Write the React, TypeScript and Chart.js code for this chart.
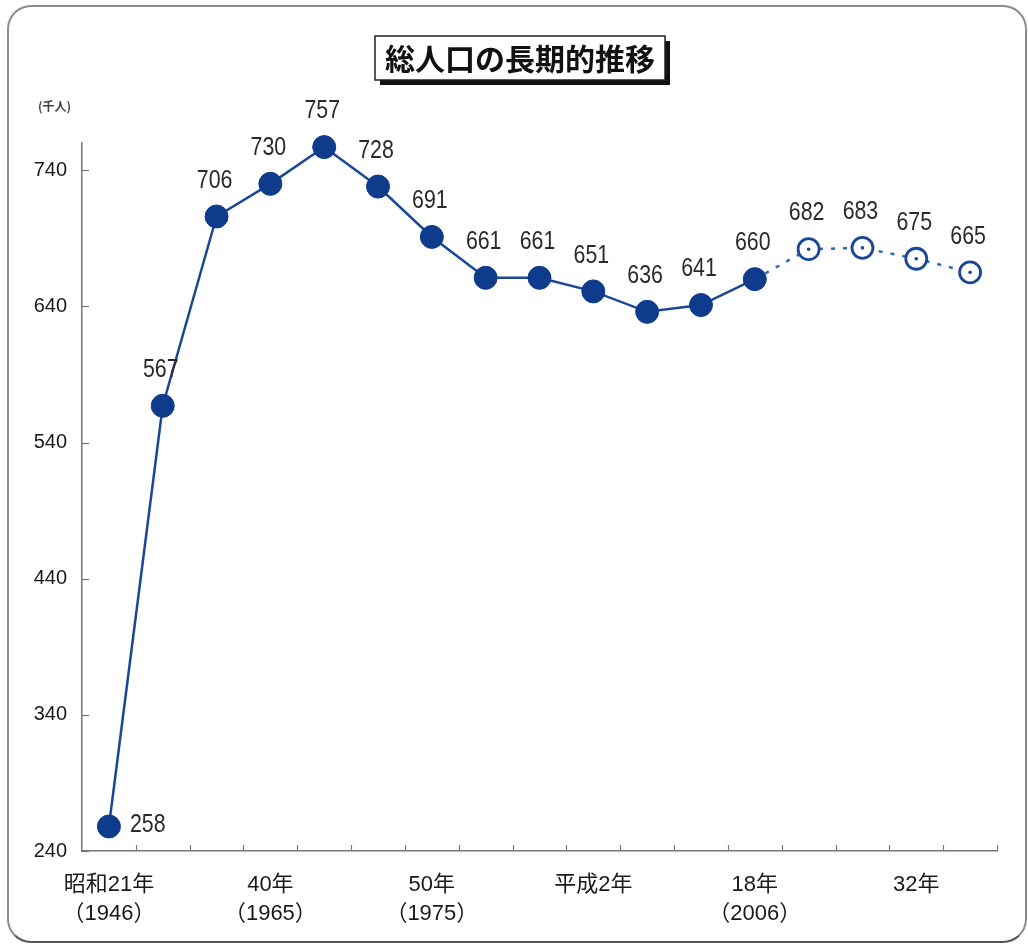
import React, { useEffect, useRef } from "react";
import { Chart, registerables } from "chart.js";

Chart.register(...registerables);

// Population (thousand people): recorded values and projections
const tickLabels: (string | string[])[] = [
  ["昭和21年", "（1946）"], "", "", ["40年", "（1965）"], "", "", ["50年", "（1975）"], "", "",
  "平成2年", "", "", ["18年", "（2006）"], "", "", "32年", "",
];
const actual = [258, 567, 706, 730, 757, 728, 691, 661, 661, 651, 636, 641, 660];
const projected = [682, 683, 675, 665];
const yTicks = [240, 340, 440, 540, 640, 740];

const TITLE = "総人口の長期的推移";
const UNIT = "(千人)";

const NAVY = "#0e3b8c";
const LINE = "#1a4897";
const DASH = "#2e68bd";
const NUM_FONT = '"Liberation Sans", sans-serif';
const JP_FONT = '"Liberation Sans", "Noto Sans CJK JP", sans-serif';

const actualSeries: (number | null)[] = tickLabels.map((_, i) => (i < actual.length ? actual[i] : null));
const lastIdx = actual.length - 1;
const projSeries: (number | null)[] = tickLabels.map((_, i) =>
  i < lastIdx ? null : i === lastIdx ? actual[lastIdx] : projected[i - lastIdx - 1] ?? null
);
const projDots: (number | null)[] = projSeries.map((v, i) => (i === lastIdx ? null : v));

// draws condensed text centred (or left-aligned) at x
function narrowText(ctx: CanvasRenderingContext2D, text: string, x: number, y: number, sx: number, align: "center" | "left") {
  ctx.save();
  ctx.translate(x, y);
  ctx.scale(sx, 1);
  ctx.textAlign = align;
  ctx.fillText(text, 0, 0);
  ctx.restore();
}

const decorPlugin = {
  id: "decor",
  afterDraw(chart: any) {
    const { ctx, chartArea, scales } = chart;
    const x = scales.x;
    const y = scales.y;
    ctx.save();

    // inward tick marks
    ctx.strokeStyle = "#777";
    ctx.lineWidth = 1.2;
    yTicks.forEach((v) => {
      const py = Math.round(y.getPixelForValue(v)) + 0.5;
      ctx.beginPath();
      ctx.moveTo(chartArea.left, py);
      ctx.lineTo(chartArea.left + 7, py);
      ctx.stroke();
    });
    const step = x.getPixelForValue(1) - x.getPixelForValue(0);
    for (let i = 0; i < tickLabels.length; i++) {
      const px = Math.round(x.getPixelForValue(i) + step / 2) + 0.5;
      ctx.beginPath();
      ctx.moveTo(px, chartArea.bottom);
      ctx.lineTo(px, chartArea.bottom - 6);
      ctx.stroke();
    }

    // value labels
    ctx.fillStyle = "#2a2a2a";
    ctx.font = `26px ${NUM_FONT}`;
    ctx.textBaseline = "middle";
    const all = [...actual, ...projected];
    all.forEach((v, i) => {
      const px = x.getPixelForValue(i);
      const py = y.getPixelForValue(v);
      if (i === 0) {
        narrowText(ctx, String(v), px + 21, py - 2, 0.82, "left");
      } else {
        narrowText(ctx, String(v), px - 2, py - 36, 0.82, "center");
      }
    });

    // unit label
    ctx.font = `bold 12px "Noto Sans CJK JP", sans-serif`;
    ctx.fillStyle = "#444";
    ctx.textAlign = "left";
    ctx.fillText(UNIT, 38, 106);

    // title box with drop shadow
    const bx = 375, by = 36, bw = 290, bh = 44;
    ctx.fillStyle = "#111";
    ctx.fillRect(bx + 5, by + 5, bw, bh);
    ctx.fillStyle = "#fff";
    ctx.fillRect(bx, by, bw, bh);
    ctx.strokeStyle = "#222";
    ctx.lineWidth = 1.5;
    ctx.strokeRect(bx, by, bw, bh);
    ctx.fillStyle = "#111";
    ctx.font = `bold 30px "Noto Sans CJK JP", sans-serif`;
    ctx.textAlign = "center";
    ctx.fillText(TITLE, bx + bw / 2, by + bh / 2 + 1);

    ctx.restore();
  },
};

export default function App() {
  const ref = useRef<HTMLCanvasElement>(null);

  useEffect(() => {
    if (!ref.current) return;
    const chart = new Chart(ref.current, {
      type: "line",
      data: {
        labels: tickLabels as any,
        datasets: [
          {
            data: actualSeries,
            order: 1,
            clip: false,
            borderColor: LINE,
            borderWidth: 2.5,
            pointRadius: 11.5,
            pointBackgroundColor: NAVY,
            pointBorderColor: NAVY,
            pointBorderWidth: 1,
            tension: 0,
          },
          {
            data: projSeries,
            order: 2,
            clip: false,
            borderColor: DASH,
            borderWidth: 2.5,
            borderDash: [4, 8],
            pointRadius: (c: any) => (c.dataIndex === lastIdx ? 0 : 10.5),
            pointBackgroundColor: "#fff",
            pointBorderColor: LINE,
            pointBorderWidth: 2.8,
            tension: 0,
          },
          {
            data: projDots,
            order: 0,
            clip: false,
            showLine: false,
            pointRadius: 1.8,
            pointBackgroundColor: LINE,
            pointBorderColor: LINE,
            pointBorderWidth: 0,
          },
        ],
      },
      options: {
        animation: false,
        responsive: false,
        layout: { padding: { left: 0, right: 31, top: 143, bottom: 0 } },
        plugins: { legend: { display: false }, tooltip: { enabled: false }, title: { display: false } },
        scales: {
          x: {
            offset: true,
            grid: { display: false, offset: true },
            border: { display: true, color: "#777", width: 1.5 },
            ticks: {
              autoSkip: false,
              maxRotation: 0,
              color: "#1a1a1a",
              font: { family: JP_FONT, size: 22, lineHeight: 1.3 },
              padding: 12,
            },
            afterFit(scale: any) {
              scale.height = 94;
            },
          },
          y: {
            min: 240,
            max: 760,
            grid: { display: false },
            border: { display: true, color: "#777", width: 1.5 },
            afterBuildTicks(scale: any) {
              scale.ticks = yTicks.map((v) => ({ value: v }));
            },
            ticks: {
              color: "#1a1a1a",
              font: { family: NUM_FONT, size: 20 },
              padding: 7,
            },
            afterFit(scale: any) {
              scale.width = 82;
            },
          },
        },
      },
      plugins: [decorPlugin],
    });
    return () => chart.destroy();
  }, []);

  return (
    <div style={{ position: "fixed", left: 0, top: 0, width: 1028, height: 945, background: "#fff" }}>
      <div
        style={{
          position: "absolute",
          left: 7,
          top: 5,
          width: 1016,
          height: 934,
          border: "2px solid #8c8c8c",
          borderBottomColor: "#555",
          borderRadius: 24,
        }}
      />
      <canvas ref={ref} width={1028} height={945} style={{ position: "absolute", left: 0, top: 0 }} />
    </div>
  );
}
